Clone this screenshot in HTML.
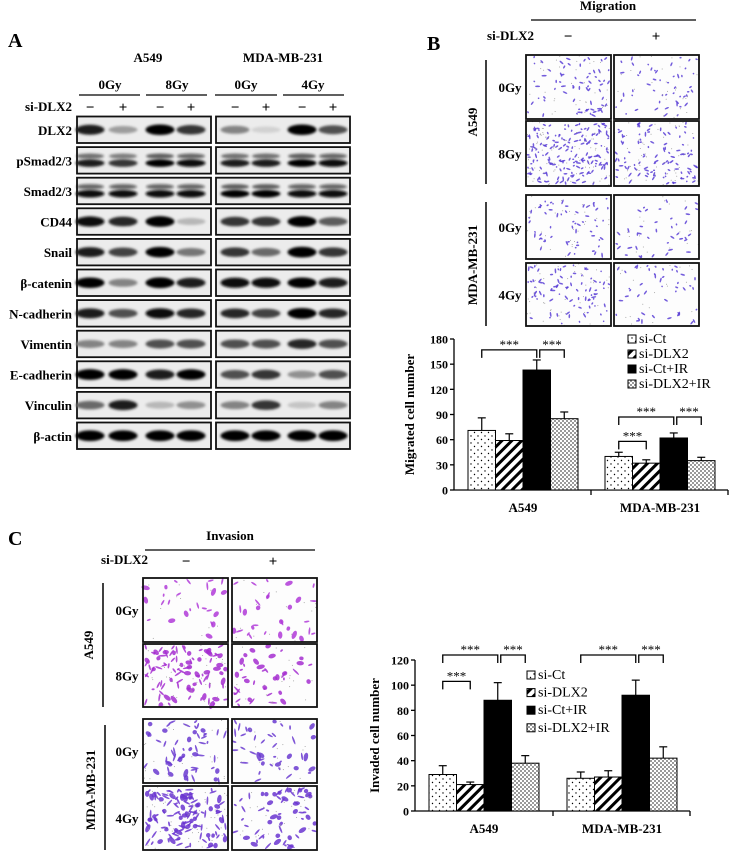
<!DOCTYPE html>
<html><head><meta charset="utf-8"><style>
html,body{margin:0;padding:0;background:#fff;}
svg{display:block;font-family:"Liberation Serif",serif;}
</style></head><body>
<svg id="fig" width="740" height="851" viewBox="0 0 740 851" xmlns="http://www.w3.org/2000/svg">
<defs>
<pattern id="pDots" width="7" height="7" patternUnits="userSpaceOnUse"><rect width="7" height="7" fill="#fff"/><circle cx="2" cy="2" r="0.7" fill="#000"/><circle cx="5.5" cy="5.5" r="0.7" fill="#000"/></pattern>
<pattern id="pHatch" width="7" height="7" patternUnits="userSpaceOnUse" patternTransform="rotate(45)"><rect width="7" height="7" fill="#fff"/><rect width="3" height="7" fill="#000"/></pattern>
<pattern id="pCheck" width="4" height="4" patternUnits="userSpaceOnUse"><rect width="4" height="4" fill="#9a9a9a"/><rect width="2" height="2" fill="#fff"/><rect x="2" y="2" width="2" height="2" fill="#fff"/></pattern>
<filter id="blur" x="-20%" y="-60%" width="140%" height="220%"><feGaussianBlur stdDeviation="1.2"/></filter>
</defs>
<g id="panelA"></g>
<g id="panelB"></g>
<g id="panelC"></g>
</svg>
<script>
// ---------- Chart data ----------
const groups = ["A549", "MDA-MB-231"];
const seriesNames = ["si-Ct", "si-DLX2", "si-Ct+IR", "si-DLX2+IR"];
const migA549 = [71, 59, 143, 85];
const migA549Err = [15, 8, 12, 8];
const migMDA = [40, 32, 62, 35];
const migMDAErr = [5, 4, 6, 4];
const migTicks = [0, 30, 60, 90, 120, 150, 180];
const invA549 = [29, 21, 88, 38];
const invA549Err = [7, 2, 14, 6];
const invMDA = [26, 27, 92, 42];
const invMDAErr = [5, 5, 12, 9];
const invTicks = [0, 20, 40, 60, 80, 100, 120];
// significance brackets: [group, barFrom, barTo, level]
const migBrackets = [[0,0,2,167],[0,2,3,167],[1,0,2,87],[1,2,3,87],[1,0,1,58]];
const invBrackets = [[0,0,2,124],[0,2,3,124],[0,0,1,103],[1,0,2,124],[1,2,3,124]];
// blot rows and band intensities (8 lanes)
const blotRows = ["DLX2","pSmad2/3","Smad2/3","CD44","Snail","β-catenin","N-cadherin","Vimentin","E-cadherin","Vinculin","β-actin"];
const blotIntensity = [
 [.8,.3,.9,.7,.4,.1,.9,.6],
 [.8,.7,.95,.85,.8,.8,.95,.85],
 [.85,.85,.85,.85,.95,.9,.85,.85],
 [.85,.75,.95,.2,.7,.7,.95,.55],
 [.8,.65,.9,.45,.7,.5,.95,.7],
 [.9,.4,.95,.8,.85,.85,.9,.8],
 [.8,.6,.85,.75,.75,.65,.95,.75],
 [.4,.4,.6,.6,.6,.6,.75,.6],
 [.95,.95,.8,.9,.6,.7,.35,.6],
 [.5,.8,.2,.35,.4,.7,.15,.4],
 [.95,.95,.95,.95,.95,.95,.95,.95]
];
const fills = ["url(#pDots)","url(#pHatch)","#000","url(#pCheck)"];

const NS="http://www.w3.org/2000/svg";
function mk(tag, attrs, parent, text){
  const e=document.createElementNS(NS,tag);
  for(const k in attrs) e.setAttribute(k,attrs[k]);
  if(text!==undefined) e.textContent=text;
  parent.appendChild(e); return e;
}
function txt(parent,x,y,s,size,opts){
  opts=opts||{};
  const t=mk("text",{x:x,y:y,"font-size":size,"text-anchor":opts.anchor||"middle","font-weight":opts.bold===false?"normal":"bold"},parent,s);
  if(opts.rot) t.setAttribute("transform","rotate(-90 "+x+" "+y+")");
  
  
  return t;
}
function line(parent,x1,y1,x2,y2,w){
  return mk("line",{x1:x1,y1:y1,x2:x2,y2:y2,stroke:"#000","stroke-width":w||1.3},parent);
}

// ---------- Panel A ----------
const A=document.getElementById("panelA");
txt(A,8,47,"A",20,{anchor:"start",name:"panel-label-a"});
txt(A,148,62,"A549",13,{name:"cell-line-a549"});
txt(A,283,62,"MDA-MB-231",13,{name:"cell-line-mda"});
[["0Gy",110,79,140],["8Gy",177,146,207],["0Gy",246,215,277],["4Gy",313,283,344]].forEach(d=>{
  txt(A,d[1],89,d[0],13,{name:"dose-label"}); line(A,d[2],95,d[3],95,1.3);
});
txt(A,72,111,"si-DLX2",13,{anchor:"end",name:"si-dlx2-label"});
const lanes=[90,123,160,191,235,266,302,333];
lanes.forEach((x,i)=>txt(A,x,112,i%2?"+":"−",15,{name:"treatment-sign"}));
const rowTop=116.5, rowPitch=30.6, rowH=26.5;
blotRows.forEach((name,r)=>{
  const y=rowTop+r*rowPitch;
  txt(A,72,y+rowH/2+5,name,13,{anchor:"end",name:"blot-label"});
  [[77,211],[216,350]].forEach((bx,k)=>{
    const g=mk("g",{},A);
    
    
    mk("rect",{x:bx[0],y:y,width:bx[1]-bx[0],height:rowH,fill:"#ececec",stroke:"#111","stroke-width":1.8},g);
    for(let j=0;j<4;j++){
      const li=k*4+j, v=blotIntensity[r][li], cx=lanes[li];
      const g2=Math.max(0,Math.round(235-260*v));
      const col="rgb("+g2+","+g2+","+g2+")";
      if(r===1||r===2){
        mk("ellipse",{cx:cx,cy:y+9,rx:14,ry:2.6,fill:col,opacity:0.6,filter:"url(#blur)"},g);
        mk("ellipse",{cx:cx,cy:y+16,rx:14.5,ry:3.8,fill:col,filter:"url(#blur)"},g);
      } else {
        mk("ellipse",{cx:cx,cy:y+rowH/2,rx:14.5,ry:3+2.5*v,fill:col,filter:"url(#blur)"},g);
      }
    }
  });
});

// ---------- micrographs ----------
let seed=7;
function rnd(){seed=(seed*16807)%2147483647;return seed/2147483647;}
function micro(parent,x,y,w,h,n,col,big){
  const g=mk("g",{},parent);
  
  
  mk("rect",{x:x,y:y,width:w,height:h,fill:"#fdfdfd"},g);
  for(let i=0;i<n;i++){
    const cx=x+2+rnd()*(w-4), cy=y+2+rnd()*(h-4), a=rnd()*180;
    const L=big?(1.5+rnd()*3):(0.8+rnd()*1.8);
    const rw=big?(rnd()<0.4?2.2:0.9):0.8;
    mk("ellipse",{cx:cx,cy:cy,rx:L,ry:rw,fill:col,opacity:0.85,transform:"rotate("+a+" "+cx+" "+cy+")"},g);
  }
  for(let i=0;i<n/2;i++) mk("circle",{cx:x+rnd()*w,cy:y+rnd()*h,r:0.5,fill:"#999"},g);
  mk("rect",{x:x,y:y,width:w,height:h,fill:"none",stroke:"#111","stroke-width":1.8},g);
}

// ---------- Panel B top ----------
const B=document.getElementById("panelB");
txt(B,427,50,"B",20,{anchor:"start",name:"panel-label-b"});
txt(B,608,10,"Migration",13,{name:"migration-title"});
line(B,531,20,696,20,1.3);
txt(B,534,40,"si-DLX2",13,{anchor:"end",name:"si-dlx2-label"});
txt(B,568,41,"−",15,{name:"treatment-sign"});txt(B,656,41,"+",15,{name:"treatment-sign"});
const bRows=[[55,64,"0Gy",70,50],[121,65,"8Gy",170,100],[195,64,"0Gy",60,40],[263,63,"4Gy",85,45]];
bRows.forEach(r=>{
  micro(B,526,r[0],85,r[1],r[3],"#5a3fd6",false);
  micro(B,614,r[0],85,r[1],r[4],"#5a3fd6",false);
  txt(B,510,r[0]+r[1]/2+5,r[2],13,{name:"dose-label"});
});
line(B,486,60,486,184,1.5);line(B,486,202,486,326,1.5);
txt(B,477,122,"A549",13,{rot:true,name:"cell-line-a549"});
txt(B,477,265,"MDA-MB-231",13,{rot:true,name:"cell-line-mda"});

// ---------- Panel C top ----------
const C=document.getElementById("panelC");
txt(C,8,545,"C",20,{anchor:"start",name:"panel-label-c"});
txt(C,230,540,"Invasion",13,{name:"invasion-title"});
line(C,145,550,315,550,1.3);
txt(C,148,564,"si-DLX2",13,{anchor:"end",name:"si-dlx2-label"});
txt(C,186,566,"−",15,{name:"treatment-sign"});txt(C,273,566,"+",15,{name:"treatment-sign"});
const cRows=[[578,64,"0Gy",25,"#b03ad8",30],[644,63,"8Gy",90,"#a52ed0",40],[719,64,"0Gy",55,"#6a3ad0",40],[786,64,"4Gy",120,"#6a35d0",60]];
cRows.forEach(r=>{
  micro(C,143,r[0],85,r[1],r[3],r[4],true);
  micro(C,232,r[0],85,r[1],r[5],r[4],true);
  txt(C,127,r[0]+r[1]/2+5,r[2],13,{name:"dose-label"});
});
line(C,103,583,103,707,1.5);line(C,105,725,105,850,1.5);
txt(C,93,645,"A549",13,{rot:true,name:"cell-line-a549"});
txt(C,95,790,"MDA-MB-231",13,{rot:true,name:"cell-line-mda"});

// ---------- bar charts ----------
function barChart(parent,cfg){
  const g=mk("g",{},parent);
  
  
  const yS=v=>cfg.base-(v/cfg.max)*(cfg.base-cfg.top);
  const bw=cfg.barW;
  const xS=(gi,bi)=>cfg.groupStart[gi]+bi*bw;
  line(g,cfg.axisX,cfg.top,cfg.axisX,cfg.base,1.3);
  line(g,cfg.axisX,cfg.base,cfg.axisEnd,cfg.base,1.3);
  line(g,cfg.midTick,cfg.base,cfg.midTick,cfg.base+5,1.3);
  line(g,cfg.axisEnd,cfg.base,cfg.axisEnd,cfg.base+5,1.3);
  cfg.ticks.forEach(t=>{
    line(g,cfg.axisX-4,yS(t),cfg.axisX,yS(t),1.3);
    txt(g,cfg.axisX-6,yS(t)+4.5,String(t),12,{anchor:"end",name:"y-tick-label"});
  });
  txt(g,cfg.yTitleX,(cfg.top+cfg.base)/2,cfg.yTitle,13,{rot:true,name:"y-axis-title"});
  groups.forEach((gn,gi)=>{
    txt(g,cfg.groupStart[gi]+2*bw,cfg.base+22,gn,13,{name:"x-category-label"});
    const vals=cfg.values[gi], errs=cfg.errors[gi];
    vals.forEach((v,bi)=>{
      const x=xS(gi,bi), cx=x+bw/2;
      const r=mk("rect",{x:x,y:yS(v),width:bw,height:cfg.base-yS(v),fill:fills[bi],stroke:"#000","stroke-width":1},g);
      
      
      line(g,cx,yS(v),cx,yS(v+errs[bi]),1.2);
      line(g,cx-4,yS(v+errs[bi]),cx+4,yS(v+errs[bi]),1.2);
    });
  });
  cfg.brackets.forEach(b=>{
    const x1=xS(b[0],b[1])+bw/2+(b[1]===2?3:0), x2=xS(b[0],b[2])+bw/2;
    const y=yS(b[3]);
    const p=mk("path",{d:"M"+x1+" "+(y+8)+"V"+y+"H"+x2+"V"+(y+8),fill:"none",stroke:"#000","stroke-width":1.3},g);
    
    
    txt(g,(x1+x2)/2,y-1,"***",13,{bold:false,name:"significance-stars"});
  });
  seriesNames.forEach((s,i)=>{
    const y=cfg.legY+i*cfg.legStep;
    const lg=mk("g",{},g);
    
    
    mk("rect",{x:cfg.legX,y:y-8,width:8,height:8,fill:fills[i],stroke:"#000","stroke-width":1},lg);
    txt(lg,cfg.legX+11,y,s,14,{anchor:"start",bold:false,name:"legend-label"});
  });
}
barChart(B,{name:"migration-chart",axisX:454,axisEnd:728,midTick:591,base:490,top:339,max:180,ticks:migTicks,
  barW:27.5,groupStart:[468,605],values:[migA549,migMDA],errors:[migA549Err,migMDAErr],brackets:migBrackets,
  yTitle:"Migrated cell number",yTitleX:414,legX:628,legY:343,legStep:15});
barChart(C,{name:"invasion-chart",axisX:415,axisEnd:690,midTick:553,base:811,top:660,max:120,ticks:invTicks,
  barW:27.5,groupStart:[429,567],values:[invA549,invMDA],errors:[invA549Err,invMDAErr],brackets:invBrackets,
  yTitle:"Invaded cell number",yTitleX:379,legX:527,legY:679,legStep:17.6});
</script>
</body></html>
